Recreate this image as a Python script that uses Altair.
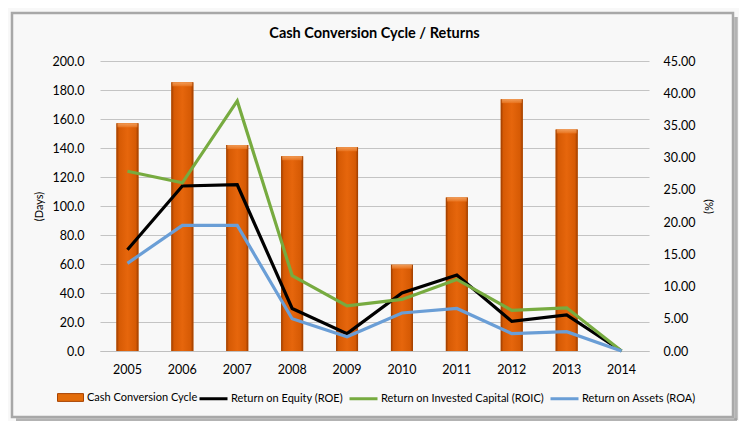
import altair as alt
import pandas as pd

years = ['2005', '2006', '2007', '2008', '2009', '2010', '2011', '2012', '2013', '2014']
ccc_days = [157.0, 185.3, 142.0, 134.3, 140.6, 59.5, 105.8, 173.7, 152.8, 0.0]
roe = [15.7, 25.6, 25.8, 6.6, 2.7, 9.0, 11.8, 4.6, 5.6, 0.0]
roic = [27.9, 26.1, 38.8, 11.7, 7.0, 8.0, 11.1, 6.3, 6.7, 0.0]
roa = [13.6, 19.5, 19.5, 5.0, 2.2, 5.9, 6.6, 2.7, 3.0, 0.0]

bar_name = 'Cash Conversion Cycle'
series_names = ['Return on Equity (ROE)', 'Return on Invested Capital (ROIC)', 'Return on Assets (ROA)']
series_values = [roe, roic, roa]
series_colors = ['#000000', '#77ab40', '#6a9ed6']

FONT = 'Lato'

bars_df = pd.DataFrame({'year': years, 'ccc': ccc_days, 'name': bar_name})
lines_df = pd.DataFrame(
    [{'year': y, 'series': s, 'value': v}
     for s, vals in zip(series_names, series_values)
     for y, v in zip(years, vals)]
)
one_row = pd.DataFrame({'k': [0]})

x_axis = alt.Axis(title=None, labelAngle=0, labelFontSize=12.5, labelFont=FONT,
                  labelColor='#000000', labelPadding=12, ticks=False,
                  domain=True, domainColor='#bfbfbf', grid=False)
x_enc = alt.X('year:N', sort=years, scale=alt.Scale(paddingInner=0, paddingOuter=0), axis=x_axis)

# chart frame (decoration): stroke-only border plus right/bottom shadow rules
shadow_r = alt.Chart(one_row).mark_rule(color='#9c9c9c', strokeWidth=3.5, opacity=0.75).encode(
    x=alt.value(636), x2=alt.value(636), y=alt.value(-44), y2=alt.value(359))
shadow_b = alt.Chart(one_row).mark_rule(color='#9c9c9c', strokeWidth=3.5, opacity=0.75).encode(
    x=alt.value(-84), x2=alt.value(637), y=alt.value(359), y2=alt.value(359))
frame = alt.Chart(one_row).mark_rect(fill='transparent', stroke='#a8a8a8', strokeWidth=2.5).encode(
    x=alt.value(-88), x2=alt.value(633), y=alt.value(-48), y2=alt.value(356))

y_left = alt.Y('ccc:Q', scale=alt.Scale(domain=[0, 200], nice=False),
               axis=alt.Axis(title='(Days)', values=list(range(0, 201, 20)), format='.1f',
                             labelFontSize=12.5, labelFont=FONT, labelColor='#000000',
                             labelPadding=16, ticks=False, domain=False,
                             grid=True, gridColor='#c4c4c4', gridWidth=1,
                             titleFont=FONT, titleFontSize=11, titleFontWeight='normal',
                             titleColor='#000000', titlePadding=8))

bar_base = alt.Chart(bars_df).encode(x=x_enc, y=y_left)

bar_legend_layer = bar_base.mark_bar(size=22).encode(
    color=alt.Color('name:N', scale=alt.Scale(range=['#e36c0a']),
                    legend=alt.Legend(title=None, orient='none', legendX=-43, legendY=323,
                                      symbolType='M-1,-0.3L1,-0.3L1,0.3L-1,0.3Z',
                                      symbolSize=676, symbolStrokeColor='#a84300',
                                      symbolStrokeWidth=1, labelFontSize=11, labelFont=FONT,
                                      labelColor='#000000', labelOffset=3))
)

bar_grad = bar_base.mark_bar(
    size=22,
    color=alt.Gradient(gradient='linear', x1=0, x2=1, y1=0, y2=0, stops=[
        alt.GradientStop(offset=0, color='#9a3c00'),
        alt.GradientStop(offset=0.12, color='#d65a04'),
        alt.GradientStop(offset=0.5, color='#e6660c'),
        alt.GradientStop(offset=0.88, color='#d65a04'),
        alt.GradientStop(offset=1, color='#9a3c00'),
    ]))

caps = bar_base.transform_filter('datum.ccc > 0').mark_tick(
    size=20, thickness=4, yOffset=2,
    color=alt.Gradient(gradient='linear', x1=0, x2=0, y1=0, y2=1, stops=[
        alt.GradientStop(offset=0, color='#f8b57a'),
        alt.GradientStop(offset=1, color='#ec7a26'),
    ]))

bars = alt.layer(bar_legend_layer, bar_grad, caps)

lines = alt.Chart(lines_df).mark_line(strokeWidth=3.2).encode(
    x=x_enc,
    y=alt.Y('value:Q', scale=alt.Scale(domain=[0, 45], nice=False),
            axis=alt.Axis(orient='right', title='(%)', titleAngle=90,
                          values=list(range(0, 46, 5)), format='.2f',
                          labelFontSize=12.5, labelFont=FONT, labelColor='#000000',
                          labelPadding=14, ticks=False, domain=False, grid=False,
                          titleFont=FONT, titleFontSize=11, titleFontWeight='normal',
                          titleColor='#000000', titlePadding=8)),
    color=alt.Color('series:N', sort=series_names,
                    scale=alt.Scale(domain=series_names, range=series_colors),
                    legend=alt.Legend(title=None, orient='none', legendX=98, legendY=322,
                                      direction='horizontal', symbolType='stroke',
                                      symbolSize=784, symbolStrokeWidth=3,
                                      labelFontSize=11, labelFont=FONT, labelColor='#000000',
                                      labelOffset=2, columnPadding=0, labelLimit=0)),
)

chart = alt.layer(shadow_r, shadow_b, frame, bars, lines).resolve_scale(
    y='independent', color='independent'
).properties(
    width=549, height=290,
    padding={'left': 92, 'top': 53, 'right': 90, 'bottom': 70},
    autosize=alt.AutoSizeParams(type='none'),
    background='#f8f8f8',
    title=alt.TitleParams(text='Cash Conversion Cycle / Returns', font=FONT, fontSize=14.5,
                          fontWeight='bold', color='#000000', anchor='middle', offset=-30),
).configure_view(stroke=None)

chart.save('out.html', embed_options={'renderer': 'svg', 'actions': False})
